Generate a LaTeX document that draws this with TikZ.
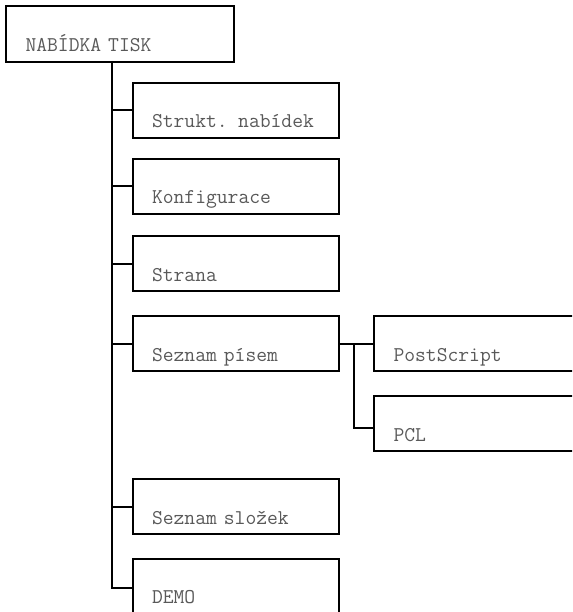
\documentclass[tikz,border=0pt]{standalone}
\usepackage{fontspec}
\usetikzlibrary{positioning}

% menu text: typewriter
\protected\def\menufont{\ttfamily\fontsize{21}{22}\selectfont}

\begin{document}
\begin{tikzpicture}[x=1pt, y=-1pt, line width=2pt,
    menubox/.style={draw, rectangle, anchor=north west, align=left,
        inner xsep=19.5pt, inner ysep=0pt, text width=#1,
        text height=45pt, text depth=10pt, text=black!65, font=\menufont},
    menubox/.default=167pt]
    \clip (0,0) rectangle (572,612);

    % top level
    \node[menubox=189pt, text height=46pt] (tisk) at (5,5) {NAB\'IDKA TISK};

    % first level entries
    \node[menubox] (strukt) at (131.5,82) {Strukt. nab\'idek};
    \node[menubox] (konfig) at (131.5,158) {Konfigurace};
    \node[menubox] (strana) at (131.5,235) {Strana};
    \node[menubox] (pisma) at (131.5,315) {Seznam p\'isem};
    \node[menubox] (slozky) at (131.5,478) {Seznam slo\v{z}ek};
    \node[menubox, text height=44pt, text depth=14pt] (demo) at (131.5,558) {DEMO};

    % fonts submenu
    \node[menubox=180pt] (ps) at (373,315) {PostScript};
    \node[menubox=180pt] (pcl) at (373,395) {PCL};

    % tree lines
    \coordinate (trunk) at (112,61);
    \draw (trunk) |- (demo.west);
    \foreach \n in {strukt,konfig,strana,pisma,slozky}
        \draw (trunk |- \n.west) -- (\n.west);

    \coordinate (fork) at (354,0);
    \draw (pisma.east) -- (ps.west);
    \draw (fork |- ps.west) |- ([yshift=-4pt]pcl.west);
\end{tikzpicture}
\end{document}
